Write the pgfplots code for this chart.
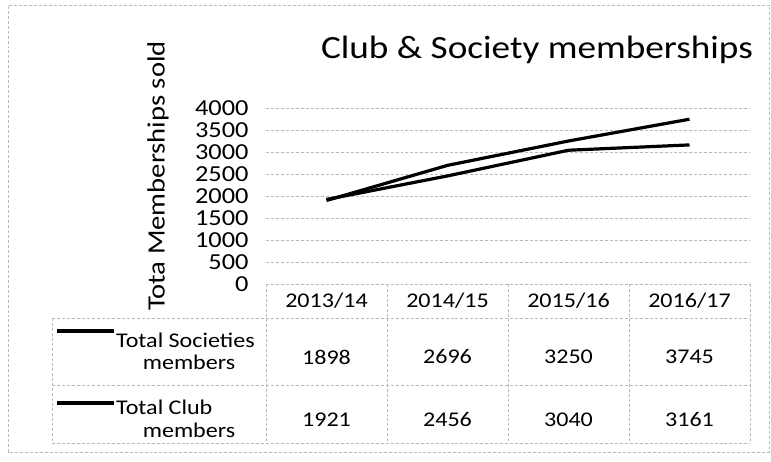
\documentclass[border=0pt]{standalone}
\usepackage{fontspec}
\setmainfont[FakeStretch=1.15]{Carlito}
\usepackage{pgfplots}
\pgfplotsset{compat=1.18}
\begin{document}
\begin{tikzpicture}[x=1bp,y=1bp]
\path[use as bounding box] (0,0) rectangle (771,462);
\tikzset{bord/.style={gray!55, densely dashed, line width=0.6bp}}
\draw[bord] (8,10) rectangle (769,457);
\begin{axis}[at={(266bp,178bp)}, anchor=south west, scale only axis,
  width=484bp, height=176bp,
  xmin=-0.5, xmax=3.5, ymin=0, ymax=4000,
  ytick={0,500,...,4000}, xtick=\empty,
  axis line style={draw=none}, tick style={draw=none},
  ymajorgrids, grid style={gray!55, densely dashed, line width=0.6bp},
  yticklabel style={font=\fontsize{23}{23}\selectfont, xshift=-14bp},
  /pgf/number format/assume math mode=true,
  /pgf/number format/1000 sep={},
  clip=false]
\addplot[black, line width=3.2bp] coordinates {(0,1898) (1,2696) (2,3250) (3,3745)};
\addplot[black, line width=3.2bp] coordinates {(0,1921) (1,2456) (2,3040) (3,3161)};
\end{axis}
% title and y label
\node[font=\fontsize{32.5}{32.5}\selectfont] at (537,412) {Club \& Society memberships};
\node[font=\fontsize{25}{25}\selectfont, rotate=90] at (158,286) {Tota Memberships sold};
% data table
\draw[bord] (266,178) -- (750,178);
\draw[bord] (52,144) -- (750,144);
\draw[bord] (52,77) -- (750,77);
\draw[bord] (52,19) -- (750,19);
\draw[bord] (52,144) -- (52,19);
\foreach \xx in {266,387,508,629,750} {\draw[bord] (\xx,178) -- (\xx,19);}
\begin{scope}[font=\fontsize{21}{21}\selectfont]
\node at (326.5,161) {2013/14};
\node at (447.5,161) {2014/15};
\node at (568.5,161) {2015/16};
\node at (689.5,161) {2016/17};
\node at (326.5,105) {1898};
\node at (447.5,105) {2696};
\node at (568.5,105) {3250};
\node at (689.5,105) {3745};
\node at (326.5,42) {1921};
\node at (447.5,42) {2456};
\node at (568.5,42) {3040};
\node at (689.5,42) {3161};
\draw[black, line width=3.2bp] (57,131) -- (114,131);
\node[anchor=base west, inner sep=0pt] at (116,114) {Total Societies};
\node[anchor=base, inner sep=0pt] at (189,92) {members};
\draw[black, line width=3.2bp] (57,59) -- (114,59);
\node[anchor=base west, inner sep=0pt] at (116,47) {Total Club};
\node[anchor=base, inner sep=0pt] at (189,24) {members};
\end{scope}
\end{tikzpicture}
\end{document}
